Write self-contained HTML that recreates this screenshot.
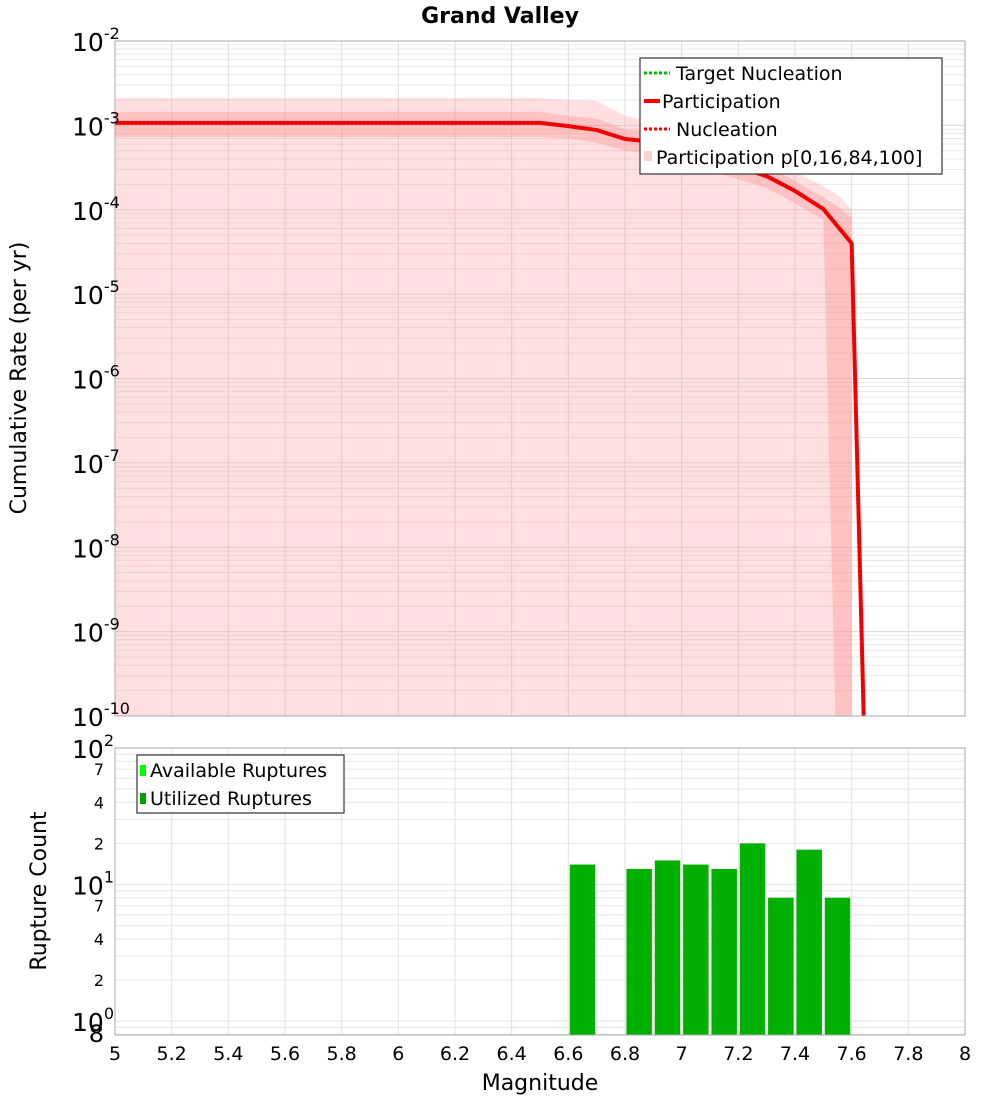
<!DOCTYPE html>
<html><head><meta charset="utf-8"><style>
body{margin:0;background:#fff;width:1000px;height:1100px;overflow:hidden;font-family:"Liberation Sans","DejaVu Sans",sans-serif}
svg text{font-family:"DejaVu Sans","Liberation Sans",sans-serif}
</style></head><body>
<svg id="chart" width="1000" height="1100" xmlns="http://www.w3.org/2000/svg"></svg>
<script>
const lineMags=[5,5.1,5.2,5.3,5.4,5.5,5.6,5.7,5.8,5.9,6,6.1,6.2,6.3,6.4,6.5,6.6,6.7,6.8,6.9,7,7.1,7.2,7.3,7.4,7.5,7.6,7.65];
const partRates=[1.07e-3,1.07e-3,1.07e-3,1.07e-3,1.07e-3,1.07e-3,1.07e-3,1.07e-3,1.07e-3,1.07e-3,1.07e-3,1.07e-3,1.07e-3,1.07e-3,1.07e-3,1.07e-3,9.8e-4,8.8e-4,6.9e-4,6.35e-4,5.1e-4,4.0e-4,3.2e-4,2.5e-4,1.67e-4,1.02e-4,4.0e-5,1e-11];
const bandMags=[5,6.5,6.6,6.7,6.8,6.9,7,7.1,7.2,7.3,7.4,7.5,7.55,7.6];
const p0=[1e-10,1e-10,1e-10,1e-10,1e-10,1e-10,1e-10,1e-10,1e-10,1e-10,1e-10,1e-10,1e-10,1e-10];
const p100=[2.1e-3,2.1e-3,2.0e-3,1.95e-3,1.3e-3,1.1e-3,8.5e-4,6.5e-4,5.2e-4,4.0e-4,2.8e-4,1.9e-4,1.5e-4,1.0e-4];
const p16=[7.3e-4,7.3e-4,7.0e-4,6.2e-4,5.0e-4,4.6e-4,3.7e-4,2.9e-4,2.3e-4,1.8e-4,1.2e-4,7.6e-5,1e-11,1e-11];
const p84=[1.45e-3,1.45e-3,1.3e-3,1.2e-3,9.0e-4,8.3e-4,6.7e-4,5.3e-4,4.2e-4,3.3e-4,2.2e-4,1.4e-4,1.1e-4,8.0e-5];
const barMags=[6.65,6.85,6.95,7.05,7.15,7.25,7.35,7.45,7.55];
const barCounts=[14,13,15,14,13,20,8,18,8];
const xTicks=[5,5.2,5.4,5.6,5.8,6,6.2,6.4,6.6,6.8,7,7.2,7.4,7.6,7.8,8];
const xTickLabels=["5","5.2","5.4","5.6","5.8","6","6.2","6.4","6.6","6.8","7","7.2","7.4","7.6","7.8","8"];
const topExps=[-2,-3,-4,-5,-6,-7,-8,-9,-10];

const NS="http://www.w3.org/2000/svg";
const svg=document.getElementById('chart');
function el(tag,attrs,parent){const e=document.createElementNS(NS,tag);for(const k in attrs)e.setAttribute(k,attrs[k]);(parent||svg).appendChild(e);return e;}
const X0=115,X1=965;
const xs=m=>X0+(m-5)/3*(X1-X0);
const T0=41,T1=716;
const yTop=v=>T0+(-2-Math.log10(v))*(T1-T0)/8;
const B0=748,B1=1035,BD=136.5;
const yBot=v=>(B0+2*BD)-Math.log10(v)*BD;

// title
let t=el('text',{x:500,y:23,'text-anchor':'middle','font-size':22,'font-weight':'bold'});t.textContent='Grand Valley';



// TOP PANEL
el('defs',{}).innerHTML='<clipPath id="ct"><rect x="115" y="41" width="850" height="675"/></clipPath><clipPath id="cb"><rect x="115" y="748" width="850" height="287"/></clipPath>';
let gTop=el('g',{'clip-path':'url(#ct)'});


for(let e=-10;e<-2;e++){for(let k=1;k<10;k++){const y=yTop(k*Math.pow(10,e));el('line',{x1:X0,x2:X1,y1:y,y2:y,stroke:k==1?'#d8d8d8':'#e8e8e8','stroke-width':1},gTop);}}
xTicks.forEach(m=>el('line',{x1:xs(m),x2:xs(m),y1:T0,y2:T1,stroke:'#dcdcdc'},gTop));
function band(lo,hi,fill,name){let pts=[];bandMags.forEach((m,i)=>pts.push(xs(m)+','+yTop(hi[i])));for(let i=bandMags.length-1;i>=0;i--)pts.push(xs(bandMags[i])+','+yTop(lo[i]));const p=el('polygon',{points:pts.join(' '),fill:fill},gTop);}
band(p0,p100,'rgba(255,150,150,0.3)','band-p0-p100');
band(p16,p84,'rgba(255,140,140,0.35)','band-p16-p84');
const lp=lineMags.map((m,i)=>xs(m)+','+yTop(partRates[i])).join(' ');
let pl=el('polyline',{points:lp,fill:'none',stroke:'#ff0000','stroke-width':4,'stroke-linejoin':'round'},gTop);


let nl=el('polyline',{points:lp,fill:'none',stroke:'#e00000','stroke-width':3,'stroke-dasharray':'2 2'},gTop);


el('rect',{x:X0,y:T0,width:X1-X0,height:T1-T0,fill:'none',stroke:'#aaa'});
topExps.forEach(e=>{const y=yTop(Math.pow(10,e));const g=el('text',{x:72,y:y+10,'font-size':25});g.innerHTML='10<tspan dy="-12" font-size="16">'+e+'</tspan>';});
t=el('text',{transform:'translate(26,378) rotate(-90)','text-anchor':'middle','font-size':22});t.textContent='Cumulative Rate (per yr)';


// legend top
let lg=el('g',{});


el('rect',{x:640,y:58,width:302,height:116,fill:'#fff',stroke:'#333','stroke-width':1.2},lg);
el('line',{x1:644,x2:670,y1:73,y2:73,stroke:'#00bb00','stroke-width':3,'stroke-dasharray':'3 2'},lg);
el('line',{x1:644,x2:660,y1:101,y2:101,stroke:'#ff0000','stroke-width':4},lg);
el('line',{x1:644,x2:670,y1:129,y2:129,stroke:'#ff0000','stroke-width':3,'stroke-dasharray':'3 2'},lg);
el('rect',{x:644,y:151,width:8,height:10,fill:'#ffd0d0'},lg);
[['Target Nucleation',676,80],['Participation',662,108],['Nucleation',676,136],['Participation p[0,16,84,100]',656,164]].forEach(a=>{const q=el('text',{x:a[1],y:a[2],'font-size':19},lg);q.textContent=a[0];});

// BOTTOM PANEL
let gB=el('g',{'clip-path':'url(#cb)'});


for(let e=-1;e<2;e++){for(let k=1;k<10;k++){const y=yBot(k*Math.pow(10,e));el('line',{x1:X0,x2:X1,y1:y,y2:y,stroke:'#e6e6e6'},gB);}}
xTicks.forEach(m=>el('line',{x1:xs(m),x2:xs(m),y1:B0,y2:B1,stroke:'#e2e2e2'},gB));
barMags.forEach((m,i)=>{const x=xs(m-0.045),w=xs(m+0.045)-x,y=yBot(barCounts[i]);const r=el('rect',{x:x,y:y,width:w,height:B1-y,fill:'#00b000'},gB);});
el('rect',{x:X0,y:B0,width:X1-X0,height:B1-B0,fill:'none',stroke:'#aaa'});
[[100,'2'],[10,'1'],[1,'0']].forEach(a=>{const y=yBot(a[0]);const g=el('text',{x:72,y:y+10,'font-size':25});g.innerHTML='10<tspan dy="-12" font-size="16">'+a[1]+'</tspan>';});
[[70,'7'],[40,'4'],[20,'2'],[7,'7'],[4,'4'],[2,'2']].forEach(a=>{const g=el('text',{x:104,y:yBot(a[0])+6,'font-size':16,'text-anchor':'end'});g.textContent=a[1];});
t=el('text',{x:104,y:1042,'font-size':24,'text-anchor':'end'});t.textContent='8';
t=el('text',{transform:'translate(46,891) rotate(-90)','text-anchor':'middle','font-size':22});t.textContent='Rupture Count';


let lb=el('g',{});


el('rect',{x:137,y:755,width:207,height:58,fill:'#fff',stroke:'#333','stroke-width':1.2},lb);
el('rect',{x:140,y:765,width:6,height:11,fill:'#00ff00'},lb);
el('rect',{x:140,y:793,width:6,height:11,fill:'#00a000'},lb);
t=el('text',{x:150,y:777,'font-size':19},lb);t.textContent='Available Ruptures';
t=el('text',{x:150,y:805,'font-size':19},lb);t.textContent='Utilized Ruptures';
xTicks.forEach((m,i)=>{const g=el('text',{x:xs(m),y:1060,'font-size':19,'text-anchor':'middle'});g.textContent=xTickLabels[i];});
t=el('text',{x:540,y:1090,'font-size':22,'text-anchor':'middle'});t.textContent='Magnitude';


</script>
</body></html>
